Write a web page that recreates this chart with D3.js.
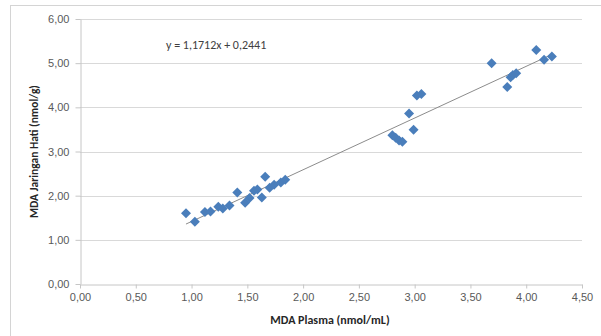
<!DOCTYPE html>
<html>
<head>
<meta charset="utf-8">
<script src="https://cdn.jsdelivr.net/npm/d3@7"></script>
<style>
  body { margin: 0; background: #fff; }
  svg { display: block; font-family: Carlito, "Open Sans", "Liberation Sans", sans-serif; }
</style>
</head>
<body>
<div id="chart"></div>
<script>
// MDA plasma (x) vs MDA liver tissue (y)
const plasma = [0.95, 1.03, 1.12, 1.17, 1.24, 1.28, 1.34, 1.41, 1.48, 1.52, 1.56, 1.59, 1.63, 1.66, 1.70, 1.74, 1.80, 1.84,
  2.80, 2.83, 2.86, 2.89, 2.95, 2.99, 3.02, 3.06,
  3.69, 3.83, 3.86, 3.88, 3.91, 4.09, 4.16, 4.23];
const hati = [1.60, 1.41, 1.63, 1.64, 1.75, 1.71, 1.78, 2.07, 1.84, 1.95, 2.11, 2.14, 1.96, 2.43, 2.18, 2.25, 2.30, 2.36,
  3.37, 3.31, 3.25, 3.22, 3.86, 3.49, 4.27, 4.30,
  5.00, 4.46, 4.68, 4.73, 4.77, 5.30, 5.08, 5.15];
const xTicks = [0, 0.5, 1, 1.5, 2, 2.5, 3, 3.5, 4, 4.5];
const yTicks = [0, 1, 2, 3, 4, 5, 6];
const slope = 1.1712, intercept = 0.2441;
const equation = "y = 1,1712x + 0,2441";
const xTitle = "MDA Plasma (nmol/mL)";
const yTitle = "MDA Jaringan Hati (nmol/g)";

const width = 601, height = 336;
const margin = { top: 19, right: 19, bottom: 52, left: 80 };

const svg = d3.select("#chart").append("svg")
  .attr("width", width)
  .attr("height", height);

// chart area border
svg.append("rect")
  .attr("x", 10.5).attr("y", 5.5)
  .attr("width", width).attr("height", height)
  .attr("fill", "none")
  .attr("stroke", "#d4d4d4");

const fmt = d3.formatLocale({ decimal: ",", thousands: ".", grouping: [3], currency: ["", ""] }).format(".2f");

const x = d3.scaleLinear().domain([0, 4.5]).range([margin.left, width - margin.right]);
const y = d3.scaleLinear().domain([0, 6]).range([height - margin.bottom, margin.top]);

// gridlines
svg.append("g")
  .selectAll("line")
  .data(yTicks.filter(d => d > 0))
  .join("line")
  .attr("x1", x(0)).attr("x2", x(4.5))
  .attr("y1", d => Math.round(y(d)) + 0.5).attr("y2", d => Math.round(y(d)) + 0.5)
  .attr("stroke", "#d9d9d9");

// axes
const xAxis = svg.append("g")
  .attr("transform", `translate(0,${Math.round(y(0)) + 0.5})`)
  .call(d3.axisBottom(x).tickValues(xTicks).tickFormat(fmt).tickSize(4).tickSizeOuter(0).tickPadding(5));
const yAxis = svg.append("g")
  .attr("transform", `translate(${x(0) + 0.5},0)`)
  .call(d3.axisLeft(y).tickValues(yTicks).tickFormat(fmt).tickSize(5).tickSizeOuter(0).tickPadding(6));

[xAxis, yAxis].forEach(g => {
  g.select(".domain").attr("stroke", "#c6c6c6");
  g.selectAll(".tick line").attr("stroke", "#c6c6c6");
  g.selectAll("text").attr("fill", "#595959").style("font-size", "11px");
});

// trendline
const xs = d3.extent(plasma);
svg.append("line")
  .attr("x1", x(xs[0])).attr("y1", y(slope * xs[0] + intercept))
  .attr("x2", x(xs[1])).attr("y2", y(slope * xs[1] + intercept))
  .attr("stroke", "#8c8c8c")
  .attr("stroke-width", 1);

// points
const diamond = "M0,-5L5,0L0,5L-5,0Z";
svg.append("g")
  .selectAll("path")
  .data(plasma.map((d, i) => [d, hati[i]]))
  .join("path")
  .attr("transform", d => `translate(${x(d[0])},${y(d[1])})`)
  .attr("d", diamond)
  .attr("fill", "#4a7ebb");

// equation label
svg.append("text")
  .attr("x", 166).attr("y", 49)
  .attr("fill", "#404040")
  .style("font-size", "12px")
  .text(equation);

// axis titles
svg.append("text")
  .attr("x", 330).attr("y", 324)
  .attr("text-anchor", "middle")
  .attr("fill", "#262626")
  .style("font-size", "12px")
  .style("font-weight", "bold")
  .text(xTitle);

svg.append("text")
  .attr("transform", `translate(38,${(y(0) + y(6)) / 2}) rotate(-90)`)
  .attr("text-anchor", "middle")
  .attr("fill", "#262626")
  .style("font-size", "11.5px")
  .style("font-weight", "bold")
  .text(yTitle);
</script>
</body>
</html>
